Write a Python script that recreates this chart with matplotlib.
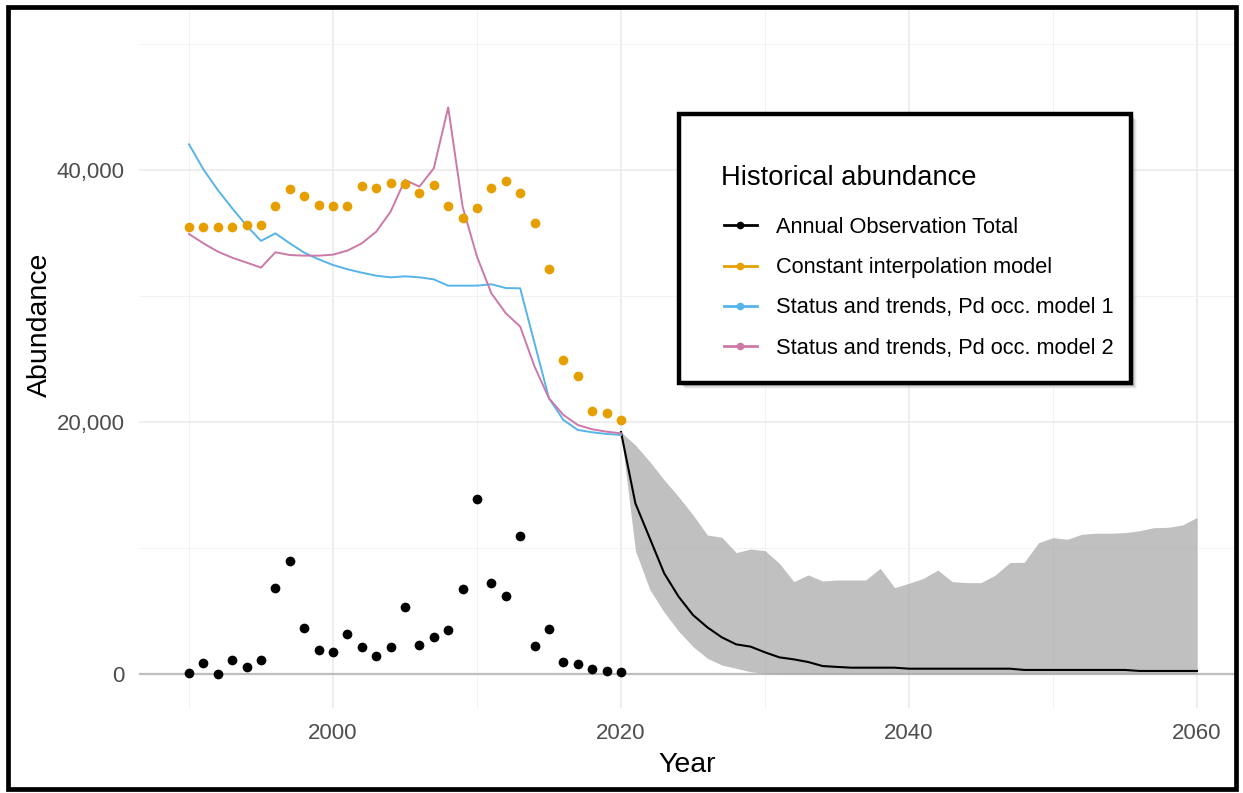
import matplotlib
matplotlib.use("Agg")
import matplotlib.pyplot as plt
from matplotlib.lines import Line2D
from matplotlib.patches import Rectangle
from matplotlib.ticker import FuncFormatter, MultipleLocator

plt.rcParams['font.family'] = ['Liberation Sans', 'DejaVu Sans']

# historical years
years = list(range(1990, 2021))
observed = [100, 870, 0, 1090, 580, 1090, 6850, 8970, 3680, 1930, 1720,
            3200, 2140, 1450, 2140, 5320, 2330, 2910, 3490, 6770, 13900,
            7250, 6190, 10930, 2250, 3600, 980, 790, 370, 260, 160]
constant_interp = [35500, 35500, 35500, 35500, 35600, 35600, 37140, 38520,
                   37910, 37250, 37140, 37140, 38700, 38600, 39000, 38890,
                   38200, 38810, 37140, 36190, 36960, 38600, 39100, 38150,
                   35820, 32170, 24920, 23680, 20870, 20690, 20180]
model1 = [42040, 40050, 38410, 36960, 35580, 34370, 34970, 34180, 33440,
          32910, 32460, 32120, 31850, 31610, 31480, 31560, 31480, 31320,
          30820, 30820, 30820, 30930, 30630, 30610, 26240, 21880, 20160,
          19370, 19180, 19050, 18970]
model2 = [34920, 34180, 33520, 33040, 32650, 32250, 33470, 33250, 33200,
          33200, 33280, 33600, 34180, 35100, 36690, 39210, 38680, 40130,
          44970, 37090, 33120, 30210, 28630, 27570, 24390, 21880, 20560,
          19760, 19420, 19230, 19100]

# projection
proj_years = list(range(2020, 2061))
proj_mean = [19200, 13540, 10770, 7990, 6140, 4680, 3700, 2910, 2350, 2170,
             1720, 1320, 1160, 950, 630, 560, 500, 500, 500, 500,
             420, 420, 420, 420, 420, 420, 420, 420, 320, 320,
             320, 320, 320, 320, 320, 320, 240, 240, 240, 240, 240]
proj_upper = [19200, 18170, 16850, 15400, 14070, 12620, 11030, 10850, 9630,
              9920, 9790, 8780, 7330, 7860, 7380, 7460, 7460, 7460, 8390,
              6850, 7200, 7590, 8250, 7330, 7250, 7250, 7860, 8840, 8860,
              10420, 10820, 10690, 11090, 11170, 11170, 11220, 11370, 11610,
              11640, 11830, 12430]
proj_lower = [19200, 9800, 6700, 4900, 3400, 2170, 1240, 710, 450, 180,
              40, 0, 0, 0, 0, 0, 0, 0, 0, 0, 0, 0, 0, 0, 0, 0, 0, 0, 0, 0,
              0, 0, 0, 0, 0, 0, 0, 0, 0, 0, 0]

legend_title = "Historical abundance"
legend_labels = ["Annual Observation Total", "Constant interpolation model",
                 "Status and trends, Pd occ. model 1",
                 "Status and trends, Pd occ. model 2"]
colors = ["#000000", "#E69F00", "#56B4E9", "#CC79A7"]

W, H = 1243, 793
fig = plt.figure(figsize=(W / 100, H / 100), dpi=100)


def fx(px):
    return px / W


def fy(py):
    return 1 - py / H


# axes placed in pixel terms
left, right, top, bottom = 138.6, 1235, 8.7, 708
ax = fig.add_axes([fx(left), fy(bottom), fx(right - left), (bottom - top) / H])
ax.set_xlim(1986.5, 2062.64)
ax.set_ylim(-2700, 52800)

for s in ax.spines.values():
    s.set_visible(False)
ax.xaxis.set_major_locator(MultipleLocator(20))
ax.xaxis.set_minor_locator(MultipleLocator(10))
ax.yaxis.set_major_locator(MultipleLocator(20000))
ax.yaxis.set_minor_locator(MultipleLocator(10000))
ax.grid(which='major', color='#EBEBEB', lw=1.2)
ax.grid(which='minor', color='#F2F2F2', lw=0.7)
ax.set_axisbelow(True)
ax.tick_params(which='both', length=0, labelsize=16, labelcolor='#4D4D4D')
ax.tick_params(axis='x', pad=11)
ax.tick_params(axis='y', pad=10)
ax.yaxis.set_major_formatter(FuncFormatter(lambda v, p: f"{int(v):,}"))

ax.axhline(0, color='#BEBEBE', lw=1.6, zorder=1)

# projection ribbon and mean
ax.fill_between(proj_years, proj_lower, proj_upper, color='#A6A6A6',
                alpha=0.7, lw=0, zorder=2)
ax.plot(proj_years, proj_mean, color='black', lw=1.5, zorder=3)

# historical model lines
ax.plot(years, model1, color=colors[2], lw=1.4, zorder=3)
ax.plot(years, model2, color=colors[3], lw=1.4, zorder=3)

# points
ax.plot(years, constant_interp, 'o', color=colors[1], ms=7, mew=0, zorder=4)
ax.plot(years, observed, 'o', color='black', ms=7, mew=0, zorder=4)

ax.set_xlabel("Year", fontsize=20.5, labelpad=5.5)
ax.set_ylabel("Abundance", fontsize=20.5)
ax.yaxis.set_label_coords((53 - left) / (right - left), (bottom - 325) / (bottom - top))

# legend box with shadow
bx0, by0, bx1, by1 = 679, 114, 1131, 383
for k, a in [(6, 0.08), (5, 0.12), (4, 0.18), (3, 0.25)]:
    fig.patches.append(Rectangle((fx(bx0 + k), fy(by1 + k)), fx(bx1 - bx0),
                                 (by1 - by0) / H, transform=fig.transFigure,
                                 facecolor='#808080', alpha=a, lw=0, zorder=5))
fig.patches.append(Rectangle((fx(bx0), fy(by1)), fx(bx1 - bx0), (by1 - by0) / H,
                             transform=fig.transFigure, facecolor='white',
                             edgecolor='black', lw=3.2, zorder=6))

fig.text(fx(721), fy(178), legend_title, fontsize=19.7, ha='left',
         va='center', zorder=7)
handles = [Line2D([], [], color=c, lw=2, marker='o', ms=4.5) for c in colors]
leg = fig.legend(handles, legend_labels,
                 loc='upper left', bbox_to_anchor=(fx(724), fy(217)),
                 frameon=False, fontsize=15.7,
                 handlelength=1.5, handletextpad=0.88,
                 labelspacing=0.88, borderpad=0, borderaxespad=0)
leg.set_zorder(7)

# outer frame
fig.patches.append(Rectangle((fx(8), fy(789)), fx(1235.5 - 8), (789 - 6.5) / H,
                             transform=fig.transFigure, fill=False,
                             edgecolor='black', lw=3.4, zorder=10))

fig.savefig("out.png", dpi=100)
